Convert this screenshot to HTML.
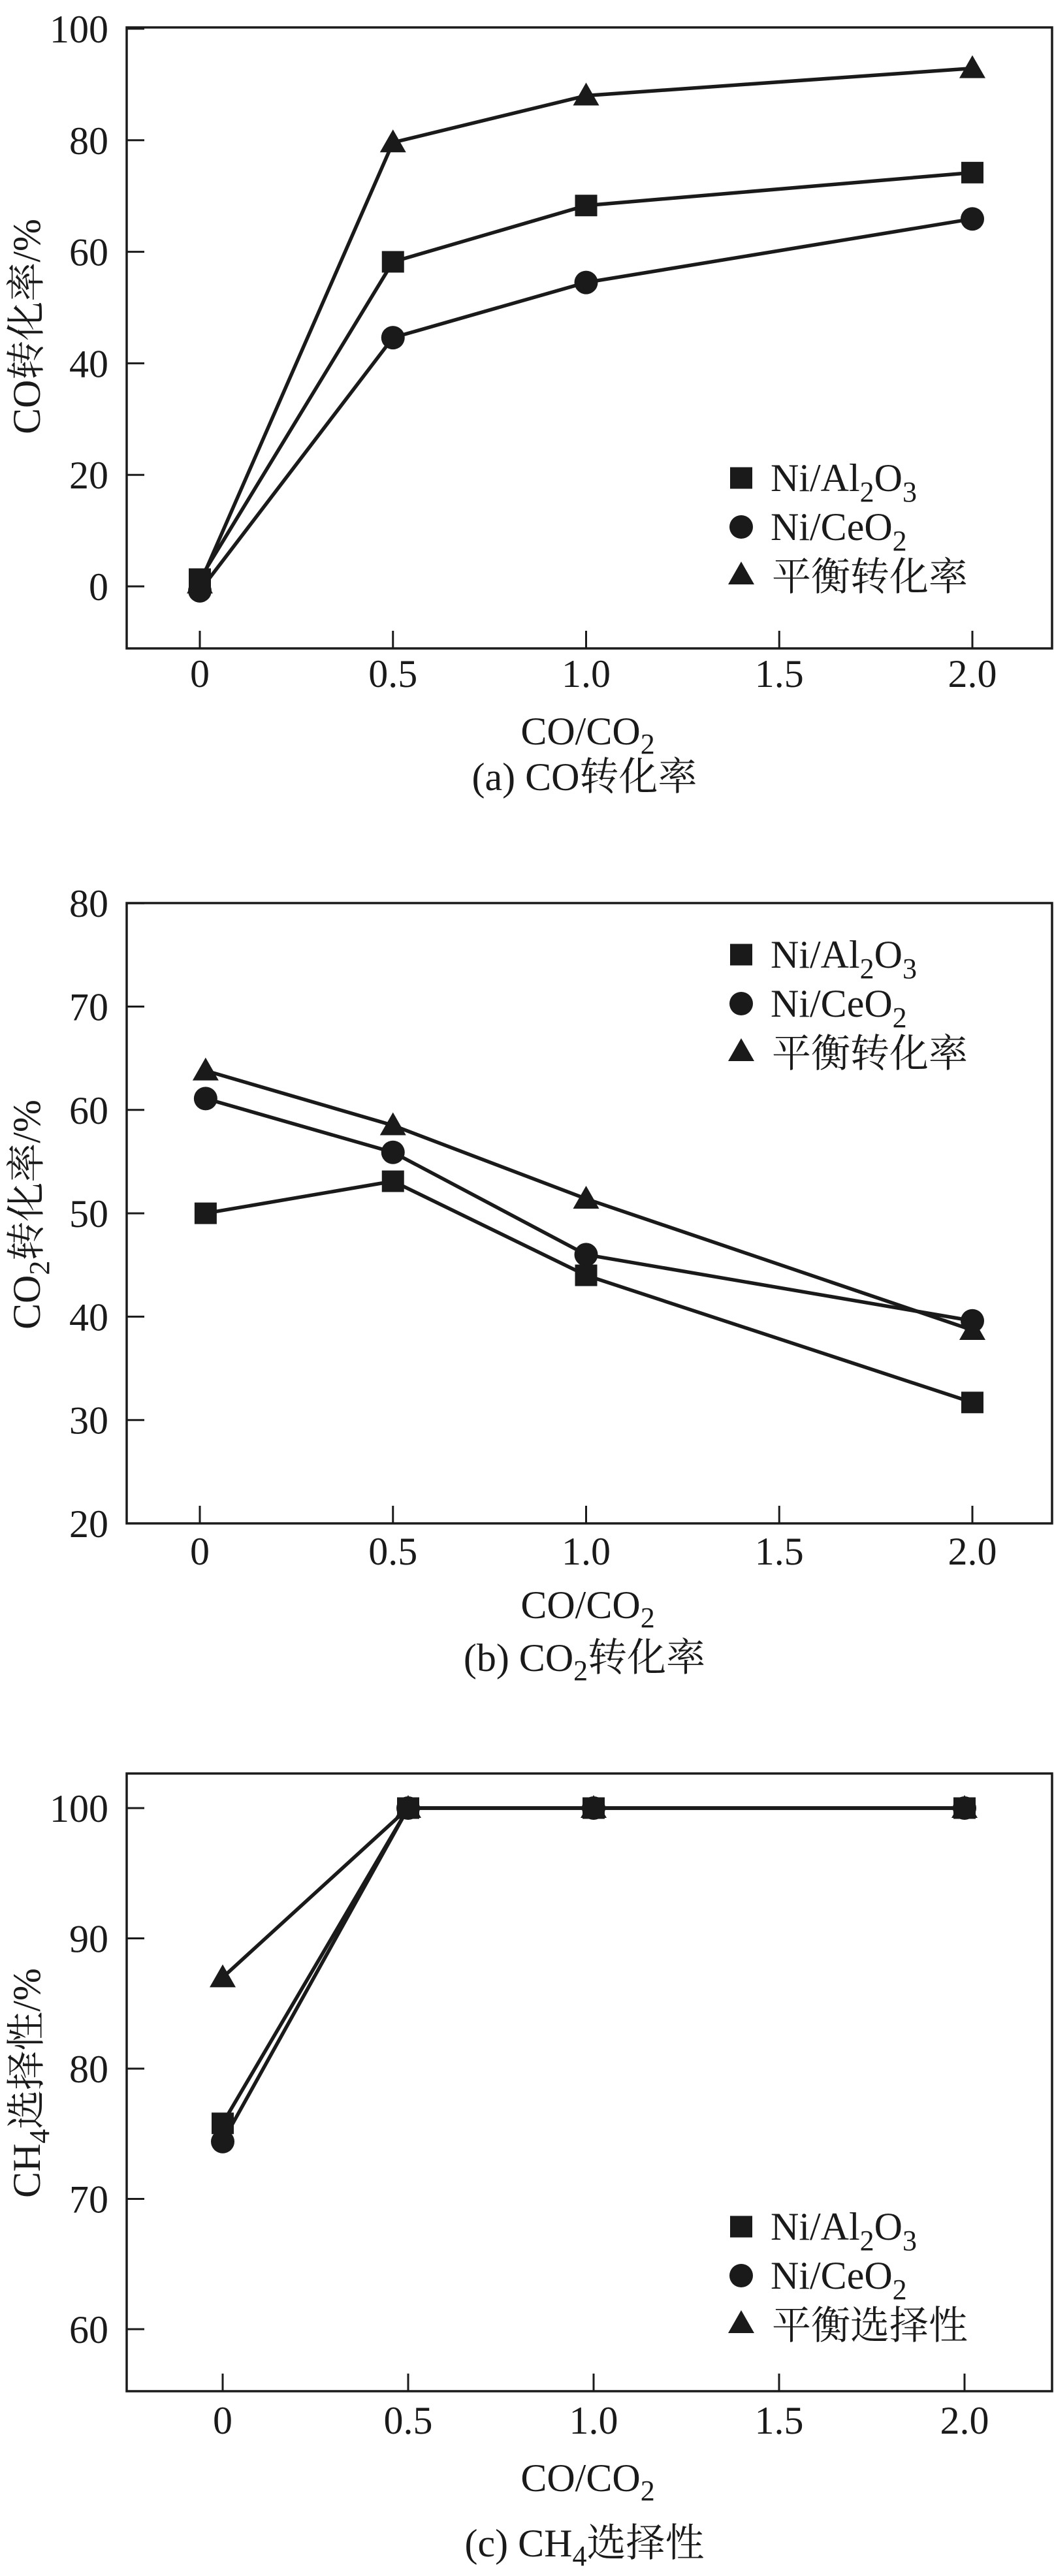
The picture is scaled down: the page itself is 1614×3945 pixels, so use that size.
<!DOCTYPE html>
<html><head><meta charset="utf-8"><title>CO/CO2 methanation charts</title>
<style>
html,body{margin:0;padding:0;background:#fff;}
svg{display:block;}
text{font-family:"Liberation Serif","Noto Serif CJK SC",serif;fill:#1a1a1a;}
</style></head>
<body>
<svg id="fig" width="1614" height="3945" viewBox="0 0 1614 3945" xmlns="http://www.w3.org/2000/svg"></svg>
<script>
// ---- data ----
const categoriesA = [0, 0.5, 1.0, 2.0];
const alA = [1.3, 58.2, 68.3, 74.2];
const ceA = [-0.8, 44.6, 54.5, 65.9];
const eqA = [0.5, 79.6, 88.0, 92.9];
const yTicksA = [0, 20, 40, 60, 80, 100];

const categoriesB = [0.015, 0.5, 1.0, 2.0];
const alB = [50.0, 53.1, 44.0, 31.7];
const ceB = [61.1, 55.9, 46.0, 39.6];
const eqB = [63.8, 58.5, 51.4, 38.7];
const yTicksB = [20, 30, 40, 50, 60, 70, 80];

const categoriesC = [0, 0.5, 1.0, 2.0];
const alC = [75.8, 100, 100, 100];
const ceC = [74.4, 100, 100, 100];
const eqC = [87.0, 100, 100, 100];
const yTicksC = [60, 70, 80, 90, 100];

const xTicks = [0, 0.5, 1.0, 1.5, 2.0];
const xTickLabels = ["0", "0.5", "1.0", "1.5", "2.0"];

const NS = "http://www.w3.org/2000/svg";
const svg = document.getElementById('fig');
function mk(tag, attrs, parent) {
  const e = document.createElementNS(NS, tag);
  for (const k in attrs) e.setAttribute(k, attrs[k]);
  (parent || svg).appendChild(e);
  return e;
}
const INK = "#1a1a1a";

function marker(g, type, cx, cy) {
  let m;
  if (type === 'square') {
    m = mk('rect', {x: cx - 17, y: cy - 16.5, width: 34, height: 33, fill: INK}, g);
  } else if (type === 'circle') {
    m = mk('circle', {cx: cx, cy: cy, r: 18, fill: INK}, g);
  } else {
    m = mk('polygon', {points: `${cx},${cy - 20} ${cx + 20},${cy + 15} ${cx - 20},${cy + 15}`, fill: INK}, g);
  }
  return m;
}

function chart(cfg) {
  const g = mk('g', {});
  
  
  const X = v => cfg.x0 + v * cfg.ppx;
  const Y = v => cfg.yRefPx - (v - cfg.yRef) * cfg.ppu;
  const L = 194, R = 1611;
  const frame = mk('rect', {x: L, y: cfg.top, width: R - L, height: cfg.bottom - cfg.top, fill: 'none', stroke: INK, 'stroke-width': 3.5}, g);
  
  
  cfg.yTicks.forEach(v => {
    const y = Y(v);
    const t = mk('line', {x1: L, x2: L + 27, y1: y, y2: y, stroke: INK, 'stroke-width': 3}, g);
    
    
    const lb = mk('text', {x: 166, y: y + 21, 'text-anchor': 'end', 'font-size': 60}, g);
    lb.textContent = String(v);
    
    
  });
  xTicks.forEach((v, i) => {
    const x = X(v);
    const t = mk('line', {x1: x, x2: x, y1: cfg.bottom, y2: cfg.bottom - 27, stroke: INK, 'stroke-width': 3}, g);
    
    
    const lb = mk('text', {x: x, y: cfg.xLabelY, 'text-anchor': 'middle', 'font-size': 60}, g);
    lb.textContent = xTickLabels[i];
    
    
  });
  const series = [
    {vals: cfg.eq, type: 'triangle', name: 'equilibrium'},
    {vals: cfg.al, type: 'square', name: 'ni-al2o3'},
    {vals: cfg.ce, type: 'circle', name: 'ni-ceo2'}
  ];
  series.forEach(s => {
    const pts = s.vals.map((v, i) => `${X(cfg.cats[i])},${Y(v)}`).join(' ');
    const pl = mk('polyline', {points: pts, fill: 'none', stroke: INK, 'stroke-width': 5.5, 'stroke-linejoin': 'miter'}, g);
    
    
  });
  series.forEach(s => {
    s.vals.forEach((v, i) => {
      const m = marker(g, s.type, X(cfg.cats[i]), Y(v));
      
      
    });
  });
  const lg = mk('g', {}, g);
  
  
  const ly = cfg.legendY;
  marker(lg, 'square', 1135, ly);
  marker(lg, 'circle', 1135, ly + 75);
  marker(lg, 'triangle', 1135, ly + 148);
  const t1 = mk('text', {x: 1180, y: ly + 20, 'font-size': 60}, lg);
  t1.innerHTML = 'Ni/Al<tspan font-size="44" dy="16">2</tspan><tspan dy="-16">O</tspan><tspan font-size="44" dy="16">3</tspan>';
  
  
  const t2 = mk('text', {x: 1180, y: ly + 95, 'font-size': 60}, lg);
  t2.innerHTML = 'Ni/CeO<tspan font-size="44" dy="16">2</tspan>';
  
  
  const t3 = mk('text', {x: 1182, y: ly + 172, 'font-size': 60}, lg);
  t3.textContent = cfg.eqLabel;
  
  
  const yt = mk('text', {x: 0, y: 0, 'text-anchor': 'middle', 'font-size': 60, transform: `translate(61,${cfg.yTitleY}) rotate(-90)`}, g);
  yt.innerHTML = cfg.yTitle;
  
  
  const xt = mk('text', {x: 900, y: cfg.xTitleY, 'text-anchor': 'middle', 'font-size': 60}, g);
  xt.innerHTML = 'CO/CO<tspan font-size="44" dy="14">2</tspan>';
  
  
  const cp = mk('text', {x: 895, y: cfg.captionY, 'text-anchor': 'middle', 'font-size': 60}, g);
  cp.innerHTML = cfg.caption;
  
  
}

chart({name: 'chart-co-conversion', top: 42, bottom: 993, yRef: 0, yRefPx: 898, ppu: 8.54,
  x0: 306, ppx: 591.5, cats: categoriesA, al: alA, ce: ceA, eq: eqA, yTicks: yTicksA,
  xLabelY: 1052, xTitleY: 1140, captionY: 1210, legendY: 732, eqLabel: '平衡转化率',
  yTitle: 'CO转化率/%', caption: '(a) CO转化率', yTitleY: 500});

chart({name: 'chart-co2-conversion', top: 1383, bottom: 2333, yRef: 20, yRefPx: 2333, ppu: 15.83,
  x0: 306, ppx: 591.5, cats: categoriesB, al: alB, ce: ceB, eq: eqB, yTicks: yTicksB,
  xLabelY: 2396, xTitleY: 2478, captionY: 2559, legendY: 1462, eqLabel: '平衡转化率',
  yTitle: 'CO<tspan font-size="44" dx="0" dy="14">2</tspan><tspan dy="-14">转化率/%</tspan>',
  caption: '(b) CO<tspan font-size="44" dy="14">2</tspan><tspan dy="-14">转化率</tspan>', yTitleY: 1860});

chart({name: 'chart-ch4-selectivity', top: 2716, bottom: 3662, yRef: 100, yRefPx: 2769, ppu: 19.95,
  x0: 341, ppx: 568, cats: categoriesC, al: alC, ce: ceC, eq: eqC, yTicks: yTicksC,
  xLabelY: 3727, xTitleY: 3815, captionY: 3915, legendY: 3410, eqLabel: '平衡选择性',
  yTitle: 'CH<tspan font-size="44" dy="14">4</tspan><tspan dy="-14">选择性/%</tspan>',
  caption: '(c) CH<tspan font-size="44" dy="14">4</tspan><tspan dy="-14">选择性</tspan>', yTitleY: 3190});
</script>
</body></html>
